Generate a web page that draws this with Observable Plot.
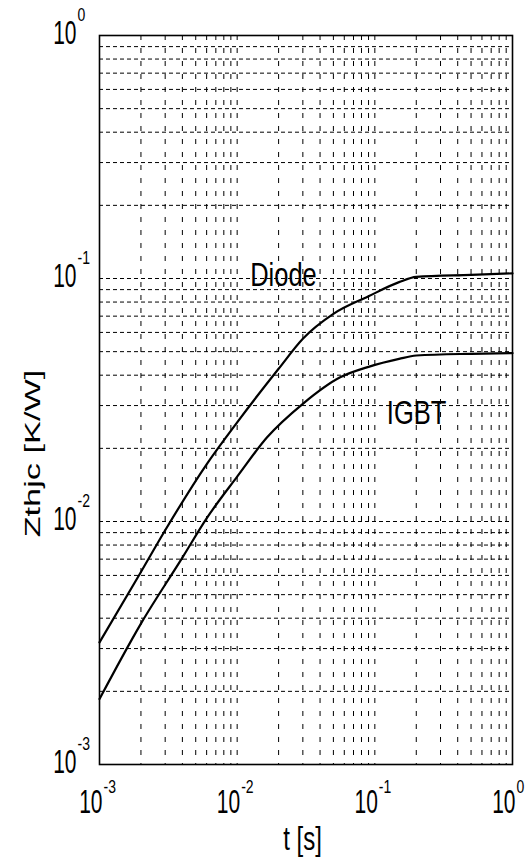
<!DOCTYPE html>
<html>
<head>
<meta charset="utf-8">
<script src="https://cdn.jsdelivr.net/npm/d3@7"></script>
<script src="https://cdn.jsdelivr.net/npm/@observablehq/plot@0.6"></script>
<style>
  html, body { margin: 0; padding: 0; background: #fff; }
  svg { display: block; }
</style>
</head>
<body>
<div id="chart"></div>
<script>
// ---- data ----
const tDiode = [0.001, 0.002, 0.003, 0.006, 0.01, 0.02, 0.03, 0.05, 0.09, 0.15, 0.2, 0.5, 1];
const zDiode = [0.00318, 0.0062, 0.0092, 0.0172, 0.0256, 0.0425, 0.0565, 0.0715, 0.0845, 0.0966, 0.1015, 0.1035, 0.105];
const tIgbt = [0.001, 0.002, 0.004, 0.006, 0.01, 0.0165, 0.03, 0.056, 0.09, 0.15, 0.2, 0.5, 1];
const zIgbt = [0.00186, 0.0038, 0.0071, 0.0103, 0.0153, 0.0222, 0.0305, 0.0392, 0.0433, 0.0467, 0.0482, 0.049, 0.0493];

const gridValues = [0.002, 0.003, 0.004, 0.005, 0.006, 0.007, 0.008, 0.009,
                    0.01, 0.02, 0.03, 0.04, 0.05, 0.06, 0.07, 0.08, 0.09,
                    0.1, 0.2, 0.3, 0.4, 0.5, 0.6, 0.7, 0.8, 0.9];
const decadeTicks = [0.001, 0.01, 0.1, 1];
const tickBase = ["10", "10", "10", "10"];
const tickExponents = ["-3", "-2", "-1", "0"];

const curveNames = ["Diode", "IGBT"];
const curveNameT = [0.0217, 0.201];
const curveNameZ = [0.1028, 0.0278];

const xTitle = "t [s]";
const yTitle = "Zthjc [K/W]";

// ---- tables built from the arrays ----
const diode = tDiode.map((t, i) => ({t, z: zDiode[i]}));
const igbt = tIgbt.map((t, i) => ({t, z: zIgbt[i]}));
const ticks = decadeTicks.map((v, i) => ({v, base: tickBase[i], e: tickExponents[i]}));
const names = curveNames.map((text, i) => ({text, t: curveNameT[i], z: curveNameZ[i]}));

const font = "'Liberation Sans', Arial, Helvetica, sans-serif";

// stretch applied to each text mark (in mark order), in the text's own frame
const textStretch = [
  [1, 1.55],  // y tick base
  [1, 1.3],   // y tick exponent
  [1, 1.55],  // x tick base
  [1, 1.3],   // x tick exponent
  [1, 1.35],  // x title
  [1.56, 1],  // y title (rotated: stretch along the text)
  [1, 1.3]    // curve names
];

const chart = Plot.plot({
  width: 531,
  height: 868,
  marginLeft: 99,
  marginRight: 19,
  marginTop: 35,
  marginBottom: 104,
  style: {fontFamily: font, background: "#fff", color: "#000", overflow: "visible"},
  x: {type: "log", domain: [1e-3, 1], axis: null},
  y: {type: "log", domain: [1e-3, 1], axis: null},
  marks: [
    Plot.ruleX(gridValues, {x: d => d, stroke: "#000", strokeWidth: 1, strokeDasharray: "5,8"}),
    Plot.ruleY(gridValues, {y: d => d, stroke: "#000", strokeWidth: 1, strokeDasharray: "4,3"}),
    Plot.line(diode, {x: "t", y: "z", stroke: "#000", strokeWidth: 2.2, curve: "monotone-x"}),
    Plot.line(igbt, {x: "t", y: "z", stroke: "#000", strokeWidth: 2.2, curve: "monotone-x"}),
    Plot.frame({stroke: "#000", strokeWidth: 1.6}),
    // y tick labels
    Plot.text(ticks, {y: "v", text: "base", frameAnchor: "left", textAnchor: "end", lineAnchor: "middle",
      dx: -23, dy: -2, fontSize: 21, fill: "#000"}),
    Plot.text(ticks, {y: "v", text: "e", frameAnchor: "left", textAnchor: "start", lineAnchor: "middle",
      dx: -22, dy: -20, fontSize: 14, fill: "#000"}),
    // x tick labels
    Plot.text(ticks, {x: "v", text: "base", frameAnchor: "bottom", textAnchor: "end", lineAnchor: "middle",
      dx: 3, dy: 37.5, fontSize: 21, fill: "#000"}),
    Plot.text(ticks, {x: "v", text: "e", frameAnchor: "bottom", textAnchor: "start", lineAnchor: "middle",
      dx: 4, dy: 23, fontSize: 14, fill: "#000"}),
    // axis titles
    Plot.text([xTitle], {text: d => d, frameAnchor: "bottom", textAnchor: "middle", lineAnchor: "middle",
      dx: -3.5, dy: 75, fontSize: 24, fill: "#000"}),
    Plot.text([yTitle], {text: d => d, frameAnchor: "left", textAnchor: "middle", lineAnchor: "middle",
      dx: -67, dy: 53.5, rotate: -90, fontSize: 22, fill: "#000"}),
    // curve names
    Plot.text(names, {x: "t", y: "z", text: "text", textAnchor: "middle", lineAnchor: "middle",
      fontSize: 25.5, fill: "#000"})
  ]
});

document.getElementById("chart").appendChild(chart);

// the reference lettering is taller than it is wide: stretch each label about its own centre
const svg = chart.tagName.toLowerCase() === "svg" ? chart : chart.querySelector("svg");
const textGroups = Array.from(svg.children).filter(g => g.tagName.toLowerCase() === "g" && g.querySelector("text"));
textGroups.forEach((g, k) => {
  const s = textStretch[k];
  if (!s) return;
  g.querySelectorAll("text").forEach(el => {
    const b = el.getBBox();
    const cx = b.x + b.width / 2, cy = b.y + b.height / 2;
    const tr = el.getAttribute("transform") || "";
    el.setAttribute("transform",
      `${tr} translate(${cx},${cy}) scale(${s[0]},${s[1]}) translate(${-cx},${-cy})`);
  });
});
</script>
</body>
</html>
